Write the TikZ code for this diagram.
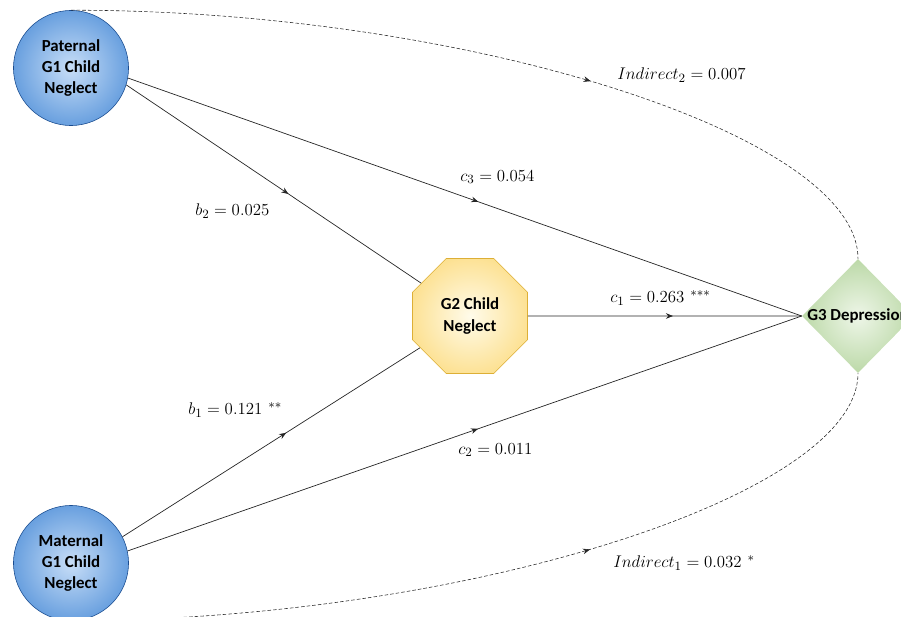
\documentclass[tikz,border=0pt]{standalone}
\usepackage{fontspec}
\newfontfamily\nodefont{Carlito}
\usetikzlibrary{shapes.geometric,decorations.markings,arrows.meta}
\definecolor{bluein}{HTML}{C8DEF7}
\definecolor{bluemid}{HTML}{5D98DC}
\definecolor{blueout}{HTML}{1D58A8}
\definecolor{yellowin}{HTML}{FFFBEA}
\definecolor{yellowmid}{HTML}{FCDD85}
\definecolor{yellowout}{HTML}{F6C33C}
\definecolor{greenin}{HTML}{EEF6E8}
\definecolor{greenmid}{HTML}{BCD9A8}
\definecolor{greenout}{HTML}{88BA68}
\pgfdeclareradialshading{bluefill}{\pgfpoint{0bp}{0bp}}{color(0bp)=(bluein); color(28bp)=(bluemid); color(50bp)=(blueout); color(100bp)=(blueout)}
\pgfdeclareradialshading{yellowfill}{\pgfpoint{0bp}{0bp}}{color(0bp)=(yellowin); color(30bp)=(yellowmid); color(50bp)=(yellowout); color(100bp)=(yellowout)}
\pgfdeclareradialshading{greenfill}{\pgfpoint{0bp}{0bp}}{color(0bp)=(greenin); color(25bp)=(greenmid); color(50bp)=(greenout); color(100bp)=(greenout)}
\tikzset{
  gone/.style={circle, minimum size=2.875cm, inner sep=0pt, shading=bluefill, draw=blueout!85!black, line width=0.4pt, font=\nodefont\bfseries\fontsize{12}{15}\selectfont, align=center},
  gtwo/.style={regular polygon, regular polygon sides=8, minimum size=3.11cm, inner sep=0pt, shading=yellowfill, draw=yellowout!90!black, line width=0.4pt, font=\nodefont\bfseries\fontsize{12}{15}\selectfont, align=center},
  gthree/.style={diamond, minimum width=2.8cm, minimum height=2.85cm, inner sep=0pt, shading=greenfill},
  link/.style={draw=black!85, line width=0.5pt, postaction={decorate}, decoration={markings, mark=at position #1 with {\arrow{Stealth[length=5pt,width=4pt]}}}},
  indirect/.style={link=#1, line width=0.4pt, dash pattern=on 2.5pt off 1.5pt},
  coef/.style={anchor=west, inner sep=0pt, font=\fontsize{13}{15}\selectfont}
}
\begin{document}
\begin{tikzpicture}[x=0.025cm,y=-0.025cm]
\useasboundingbox (0,0) rectangle (901,617);
% variables
\node[gone] (pat) at (71,68) {Paternal\\G1 Child\\Neglect};
\node[gone] (mat) at (71,563) {Maternal\\G1 Child\\Neglect};
\node[gtwo] (g2) at (470,316) {G2 Child\\Neglect};
\node[gthree] (g3) at (858,316) {};
\node[font=\nodefont\bfseries\fontsize{12}{15}\selectfont, inner sep=0pt] (g3text) at (g3) {G3 Depression};
% direct and mediated paths
\draw[link=0.52] (pat.-10) -- (g3.west);
\draw[link=0.55] (pat.-17) -- (g2);
\draw[link=0.55] (mat.27) -- (g2);
\draw[link=0.52] (mat.12) -- (g3.west);
\draw[link=0.53] (g2.east) -- (g3.west);
% indirect effects
\draw[indirect=0.61] (pat.north) .. controls (464,10) and (858,134) .. (g3.north);
\draw[indirect=0.61] (mat.south) .. controls (464,620) and (858,496) .. (g3.south);
% coefficients
\node[coef] (ind2) at (617,75) {$Indirect_2 = 0.007$};
\node[coef] (c3) at (460,177) {$c_3 = 0.054$};
\node[coef] (b2) at (195,211) {$b_2 = 0.025$};
\node[coef] (c1) at (610,298) {$c_1 = 0.263~^{***}$};
\node[coef] (b1) at (188,410) {$b_1 = 0.121~^{**}$};
\node[coef] (c2) at (458,450) {$c_2 = 0.011$};
\node[coef] (ind1) at (613,563) {$Indirect_1 = 0.032~^{*}$};
\end{tikzpicture}
\end{document}
